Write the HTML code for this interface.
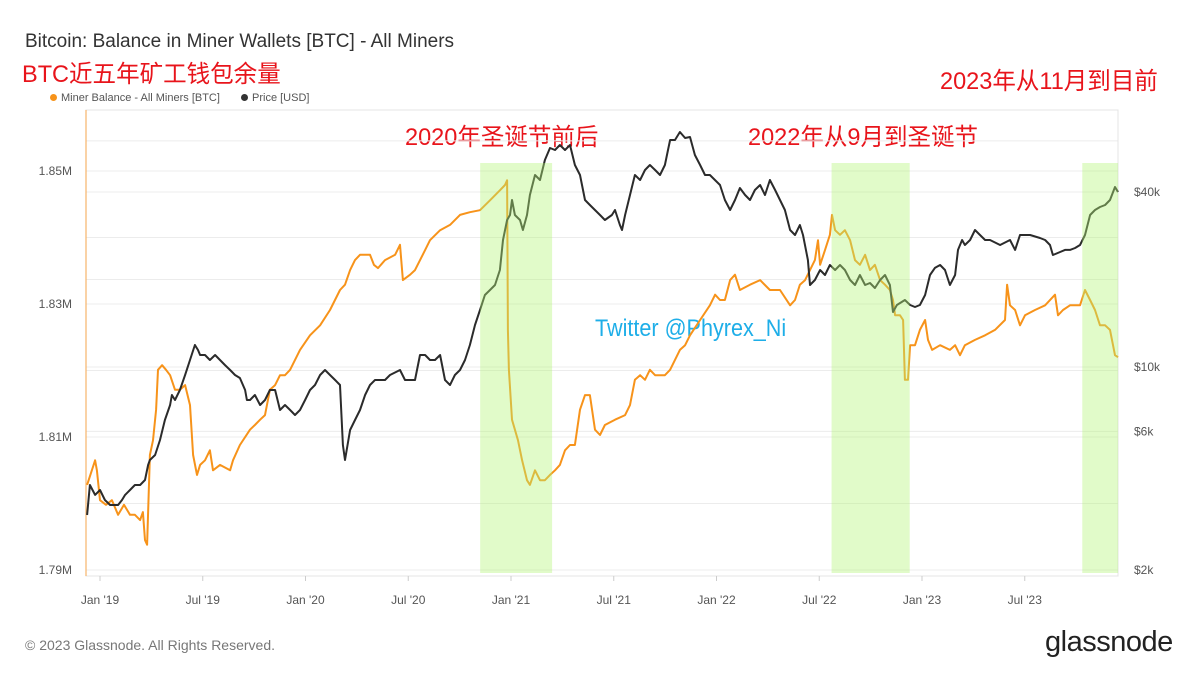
<!DOCTYPE html>
<html><head><meta charset="utf-8">
<style>
html,body{margin:0;padding:0;background:#fff;}
body{width:1199px;height:675px;overflow:hidden;position:relative;font-family:"Liberation Sans","Noto Sans CJK SC",sans-serif;}
.t{position:absolute;white-space:nowrap;}
</style></head>
<body>
<div class="t" style="left:25px;top:31px;font-size:19px;color:#333;">Bitcoin: Balance in Miner Wallets [BTC] - All Miners</div>
<div class="t" style="left:22px;top:54px;font-size:24px;color:#e8141b;transform:scaleX(0.98);transform-origin:left;">BTC近五年矿工钱包余量</div>
<div class="t" style="left:940px;top:61px;font-size:24px;color:#e8141b;transform:scaleX(0.98);transform-origin:left;">2023年从11月到目前</div>
<div class="t" style="left:405px;top:117px;font-size:24px;color:#e8141b;transform:scaleX(0.98);transform-origin:left;">2020年圣诞节前后</div>
<div class="t" style="left:748px;top:117px;font-size:24px;color:#e8141b;transform:scaleX(0.98);transform-origin:left;">2022年从9月到圣诞节</div>
<div class="t" style="left:595px;top:315px;font-size:24px;color:#1eaee8;transform:scaleX(0.9);transform-origin:left;">Twitter @Phyrex_Ni</div>
<div class="t" style="left:50px;top:92px;font-size:11px;color:#555;">
 <span><span style="display:inline-block;width:7px;height:7px;border-radius:50%;background:#f7931a;margin-right:4px;"></span>Miner Balance - All Miners [BTC]</span>
 <span style="margin-left:18px;"><span style="display:inline-block;width:7px;height:7px;border-radius:50%;background:#333;margin-right:4px;"></span>Price [USD]</span>
</div>
<div class="t" style="left:25px;top:637px;font-size:14px;color:#777;">© 2023 Glassnode. All Rights Reserved.</div>
<div class="t" style="left:1045px;top:626px;font-size:29px;color:#222;letter-spacing:-0.5px;">glassnode</div>
<svg id="chart" width="1199" height="675" style="position:absolute;left:0;top:0;" xmlns="http://www.w3.org/2000/svg"></svg>
<script>
const leftTicks=[1790,1810,1830,1850];
const leftTickLabels=["1.79M","1.81M","1.83M","1.85M"];
const rightTicks=[2000,6000,10000,40000];
const rightTickLabels=["$2k","$6k","$10k","$40k"];
const xTicks=[2019,2019.5,2020,2020.5,2021,2021.5,2022,2022.5,2023,2023.5];
const xTickLabels=["Jan '19","Jul '19","Jan '20","Jul '20","Jan '21","Jul '21","Jan '22","Jul '22","Jan '23","Jul '23"];
const bands=[[2020.85,2021.2],[2022.56,2022.94],[2023.78,2023.954]];
const balDates=[2018.937,2018.976,2018.985,2019.000,2019.029,2019.058,2019.088,2019.117,2019.146,2019.170,2019.195,2019.209,2019.219,2019.229,2019.243,2019.258,2019.273,2019.282,2019.302,2019.321,2019.341,2019.365,2019.389,2019.414,2019.438,2019.453,2019.472,2019.487,2019.511,2019.535,2019.550,2019.584,2019.633,2019.647,2019.681,2019.730,2019.754,2019.779,2019.803,2019.827,2019.852,2019.876,2019.900,2019.925,2019.973,2020.022,2020.071,2020.119,2020.168,2020.192,2020.217,2020.241,2020.265,2020.314,2020.333,2020.353,2020.387,2020.436,2020.460,2020.474,2020.509,2020.533,2020.582,2020.606,2020.655,2020.703,2020.752,2020.800,2020.849,2020.898,2020.946,2020.971,2020.981,2020.985,2020.990,2021.005,2021.034,2021.054,2021.078,2021.092,2021.117,2021.141,2021.165,2021.190,2021.214,2021.238,2021.263,2021.287,2021.311,2021.336,2021.360,2021.384,2021.409,2021.433,2021.457,2021.506,2021.555,2021.579,2021.603,2021.628,2021.652,2021.676,2021.701,2021.749,2021.774,2021.822,2021.847,2021.871,2021.920,2021.968,2021.993,2022.017,2022.041,2022.066,2022.090,2022.114,2022.163,2022.212,2022.260,2022.309,2022.358,2022.382,2022.406,2022.431,2022.455,2022.479,2022.494,2022.504,2022.528,2022.552,2022.562,2022.577,2022.601,2022.625,2022.650,2022.674,2022.698,2022.723,2022.747,2022.771,2022.796,2022.820,2022.844,2022.859,2022.869,2022.893,2022.908,2022.917,2022.932,2022.942,2022.966,2022.990,2023.015,2023.029,2023.049,2023.088,2023.136,2023.161,2023.185,2023.209,2023.258,2023.307,2023.355,2023.404,2023.414,2023.428,2023.453,2023.477,2023.501,2023.550,2023.599,2023.647,2023.662,2023.686,2023.720,2023.769,2023.793,2023.818,2023.842,2023.866,2023.891,2023.915,2023.939,2023.954];
const balValues=[1802.8,1806.5,1805.0,1800.5,1799.8,1800.5,1798.3,1799.8,1798.3,1798.3,1797.5,1798.7,1794.5,1793.8,1807.3,1809.5,1814.1,1820.1,1820.8,1820.1,1819.3,1817.1,1817.1,1817.8,1814.8,1807.3,1804.3,1805.8,1806.5,1808.0,1805.0,1805.8,1805.0,1806.5,1808.8,1811.1,1811.8,1812.6,1813.3,1817.1,1817.8,1819.3,1819.3,1820.1,1823.1,1825.3,1826.8,1829.1,1832.1,1832.9,1835.1,1836.6,1837.4,1837.4,1835.9,1835.4,1836.6,1837.4,1838.9,1833.6,1834.4,1835.1,1838.1,1839.6,1841.1,1841.9,1843.4,1843.8,1844.1,1845.6,1847.1,1847.9,1848.6,1826.1,1820.1,1812.6,1809.5,1806.5,1803.5,1802.8,1805.0,1803.5,1803.5,1804.3,1805.0,1805.8,1808.0,1808.8,1808.8,1814.1,1816.3,1816.3,1811.1,1810.3,1811.8,1812.6,1813.3,1814.8,1818.6,1819.3,1818.6,1820.1,1819.3,1819.3,1820.1,1823.1,1823.8,1825.3,1827.6,1829.8,1831.4,1830.6,1830.6,1833.6,1834.4,1832.1,1832.9,1833.6,1832.1,1832.1,1829.8,1830.6,1832.9,1833.6,1835.1,1836.6,1839.6,1835.9,1838.1,1840.4,1843.4,1841.1,1840.4,1841.1,1839.6,1836.6,1835.9,1837.4,1835.1,1835.9,1833.6,1832.9,1832.1,1830.6,1828.3,1828.3,1827.6,1818.6,1818.6,1823.8,1823.8,1826.1,1827.6,1824.6,1823.1,1823.8,1823.1,1823.8,1822.3,1823.8,1824.6,1825.3,1826.1,1827.6,1832.9,1829.8,1829.1,1826.8,1828.3,1829.1,1829.8,1831.4,1828.3,1829.1,1829.8,1829.8,1832.1,1830.6,1829.1,1826.8,1826.8,1826.1,1822.3,1822.0];
const priceDates=[2018.937,2018.951,2018.976,2019.000,2019.024,2019.049,2019.088,2019.107,2019.122,2019.146,2019.170,2019.195,2019.219,2019.234,2019.243,2019.268,2019.292,2019.316,2019.341,2019.350,2019.365,2019.389,2019.414,2019.438,2019.462,2019.477,2019.487,2019.511,2019.535,2019.560,2019.584,2019.608,2019.633,2019.657,2019.681,2019.706,2019.715,2019.730,2019.754,2019.779,2019.803,2019.827,2019.852,2019.876,2019.900,2019.925,2019.949,2019.973,2019.998,2020.022,2020.046,2020.071,2020.095,2020.119,2020.144,2020.168,2020.182,2020.192,2020.217,2020.241,2020.265,2020.290,2020.314,2020.338,2020.387,2020.411,2020.460,2020.484,2020.533,2020.557,2020.582,2020.606,2020.630,2020.655,2020.679,2020.703,2020.727,2020.752,2020.776,2020.800,2020.825,2020.849,2020.873,2020.898,2020.922,2020.946,2020.961,2020.981,2020.995,2021.005,2021.019,2021.044,2021.058,2021.078,2021.092,2021.117,2021.141,2021.165,2021.190,2021.214,2021.238,2021.263,2021.287,2021.311,2021.336,2021.360,2021.384,2021.433,2021.457,2021.491,2021.506,2021.530,2021.540,2021.555,2021.579,2021.603,2021.628,2021.652,2021.676,2021.701,2021.725,2021.749,2021.764,2021.774,2021.798,2021.822,2021.847,2021.871,2021.895,2021.920,2021.944,2021.968,2022.017,2022.041,2022.066,2022.090,2022.114,2022.139,2022.163,2022.187,2022.212,2022.236,2022.260,2022.285,2022.309,2022.333,2022.358,2022.382,2022.406,2022.421,2022.445,2022.455,2022.479,2022.504,2022.528,2022.552,2022.577,2022.601,2022.625,2022.650,2022.674,2022.698,2022.723,2022.747,2022.771,2022.796,2022.820,2022.844,2022.859,2022.878,2022.917,2022.942,2022.966,2022.990,2023.015,2023.039,2023.063,2023.088,2023.112,2023.136,2023.161,2023.175,2023.195,2023.209,2023.234,2023.258,2023.282,2023.307,2023.331,2023.380,2023.428,2023.453,2023.477,2023.526,2023.574,2023.599,2023.623,2023.637,2023.672,2023.696,2023.720,2023.745,2023.769,2023.793,2023.818,2023.842,2023.866,2023.891,2023.915,2023.939,2023.954];
const priceValues=[3092,3924,3626,3772,3483,3349,3349,3483,3626,3772,3924,3924,4082,4596,4782,4977,5606,6568,7396,8006,7696,8330,9384,10568,11902,11440,10996,10996,10568,10996,10568,10156,9762,9384,9160,8330,7696,7696,8006,7396,7696,8330,8330,7110,7396,7110,6834,7110,7696,8330,8666,9384,9762,9384,9016,8666,5386,4782,6066,6568,7110,8006,8666,9016,9016,9384,9762,9016,9016,10996,10996,10568,10568,10996,9016,8666,9384,9762,10568,11902,13944,15704,17688,18406,19150,21560,27360,32040,33340,37560,33340,32040,29620,33340,39080,45780,44000,51560,56720,55820,58080,55820,58080,49580,45780,37560,36100,33340,32040,33340,34700,30800,29620,33340,39080,45780,44000,47640,49580,47640,45780,49580,55820,60420,60420,64360,61380,61880,53660,49580,45780,45780,42300,37560,34700,37560,41300,39080,37560,40660,42300,39080,44000,40660,37560,34700,29620,28460,30800,28460,23340,19150,19920,21560,20720,22440,21560,22440,21560,19920,19150,20720,19150,19450,18700,19920,20720,19150,15460,16340,17000,16340,16080,16340,17688,20720,21920,22440,21560,19150,20720,25280,27360,26300,27360,29620,28460,27360,27360,26300,27360,25280,28460,28460,27800,27360,26300,24280,24880,25280,25280,25680,26300,28460,33340,34700,35540,36100,37560,41640,40020];

const L=86,R=1118,T=110,B=576;
function xs(t){return 100+(t-2019)*205.5;}
function yl(v){return 570-(v-1790)*6.65;}
function yr(p){return 570-Math.log10(p/2000)*290.5;}
const svg=document.getElementById('chart');
const NS='http://www.w3.org/2000/svg';
function mk(tag,attrs){const e=document.createElementNS(NS,tag);for(const k in attrs)e.setAttribute(k,attrs[k]);svg.appendChild(e);return e;}

const gridYs=[];
leftTicks.forEach(v=>gridYs.push(yl(v)));
rightTicks.forEach(p=>gridYs.push(yr(p)));
[1840,1820,1800].forEach(v=>gridYs.push(yl(v)));
[20000,60000].forEach(p=>gridYs.push(yr(p)));
gridYs.forEach(y=>{
 const g=mk('line',{x1:L,x2:R,y1:y,y2:y,stroke:'#ececec','stroke-width':1});
 
 
});
const frame=mk('rect',{x:L,y:T,width:R-L,height:B-T,fill:'none',stroke:'#e4e4e4','stroke-width':1});


const laxis=mk('line',{x1:L,x2:L,y1:T,y2:B,stroke:'#f7b36a','stroke-width':1.2});



leftTicks.forEach((v,i)=>{
 const e=mk('text',{x:72,y:yl(v)+4,'text-anchor':'end','font-size':12,fill:'#555','font-family':'Liberation Sans, sans-serif'});
 e.textContent=leftTickLabels[i];
 
 
});
rightTicks.forEach((p,i)=>{
 const e=mk('text',{x:1134,y:yr(p)+4,'font-size':12,fill:'#555','font-family':'Liberation Sans, sans-serif'});
 e.textContent=rightTickLabels[i];
 
 
});
xTicks.forEach((t,i)=>{
 const tk=mk('line',{x1:xs(t),x2:xs(t),y1:B,y2:B+5,stroke:'#ccc','stroke-width':1});
 
 
 const e=mk('text',{x:xs(t),y:604,'text-anchor':'middle','font-size':12,fill:'#555','font-family':'Liberation Sans, sans-serif'});
 e.textContent=xTickLabels[i];
 
 
});

let d='';
balDates.forEach((t,i)=>{d+=(i?'L':'M')+xs(t).toFixed(1)+','+yl(balValues[i]).toFixed(1);});
const bl=mk('path',{d:d,fill:'none',stroke:'#f7931a','stroke-width':2,'stroke-linejoin':'round'});


d='';
priceDates.forEach((t,i)=>{d+=(i?'L':'M')+xs(t).toFixed(1)+','+yr(priceValues[i]).toFixed(1);});
const pl=mk('path',{d:d,fill:'none',stroke:'#2b2b2b','stroke-width':2,'stroke-linejoin':'round'});



bands.forEach(b=>{
 const r=mk('rect',{x:xs(b[0]),y:163,width:xs(b[1])-xs(b[0]),height:410,fill:'rgb(180,245,120)','fill-opacity':0.4});
 
 
});
</script>
</body></html>
